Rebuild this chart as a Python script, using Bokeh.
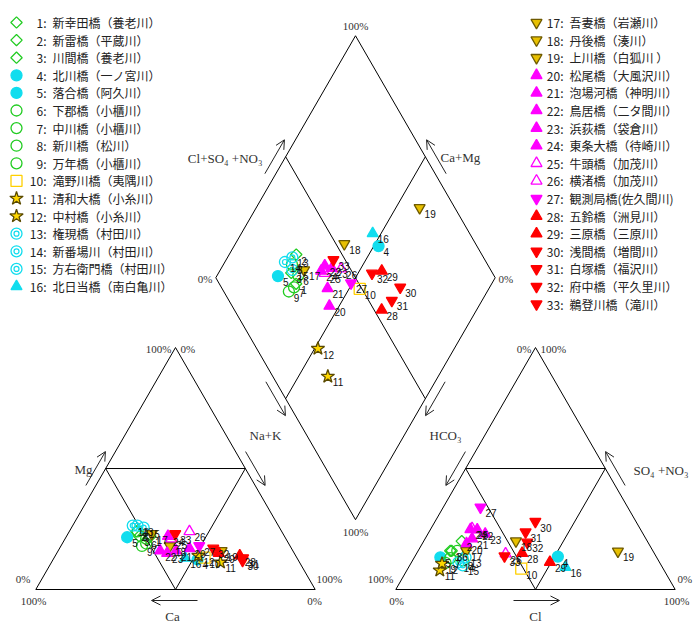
import numpy as np
from bokeh.plotting import figure
from bokeh.models import Range1d, Arrow, OpenHead, ColumnDataSource
from bokeh.core.properties import value
from bokeh.embed import file_html
from bokeh.resources import INLINE

# ---------------- data ----------------
ids = list(range(1, 34))
names = ["新幸田橋（養老川）", "新雷橋（平蔵川）", "川間橋（養老川）", "北川橋（一ノ宮川）",
         "落合橋（阿久川）", "下郡橋（小櫃川）", "中川橋（小櫃川）", "新川橋（松川）",
         "万年橋（小櫃川）", "滝野川橋（夷隅川）", "清和大橋（小糸川）", "中村橋（小糸川）",
         "権現橋（村田川）", "新番場川（村田川）", "方右衛門橋（村田川）", "北日当橋（南白亀川）",
         "吾妻橋（岩瀬川）", "丹後橋（湊川）", "上川橋（白狐川 ）", "松尾橋（大風沢川）",
         "泡場河橋（神明川）", "鳥居橋（二タ間川）", "浜荻橋（袋倉川）", "東条大橋（待崎川）",
         "牛頭橋（加茂川）", "横渚橋（加茂川）", "観測局橋(佐久間川)", "五鈴橋（洲見川）",
         "三原橋（三原川）", "浅間橋（増間川）", "白塚橋（福沢川）", "府中橋（平久里川）",
         "鵜登川橋（滝川）"]
# cations (% meq)
mg = [22, 24, 22, 12.4, 21.6, 21, 19, 24, 18, 13.2, 11.2, 14, 26.4, 26.4, 25.6, 13,
      23, 18, 16, 17, 16, 16, 15, 22, 21, 24, 18, 14, 15, 12, 13, 17, 23]
nak = [30, 24, 26, 51.7, 21.9, 29, 30, 24.5, 29, 53.8, 60.5, 51.2, 23.2, 21.5, 25.8, 47,
       30, 39, 58.5, 46.5, 42.2, 36.5, 39.5, 36.3, 38, 43, 49.5, 66, 58, 68, 67.7, 55, 38.4]
ca = [100 - a - b for a, b in zip(mg, nak)]
# anions (% meq)
so4 = [16, 20, 16, 13.6, 13.3, 16, 13, 12, 11, 8.6, 7.9, 10.7, 13.3, 11.2, 10, 9.2,
       16, 20, 15.8, 19, 21, 24.7, 23, 24.8, 25.2, 14.8, 34, 15, 11.3, 28.1, 23.7, 19.5, 13.8]
cl = [11.5, 13.6, 12, 51.2, 9.3, 14, 13, 18, 12.3, 40.6, 11.8, 11.2, 18.3, 16.8, 19, 56.1,
      17.2, 33, 71.6, 15.8, 16.8, 16.8, 20.5, 14.3, 14.7, 31.9, 13.3, 37.7, 49.5, 35.9, 34.6, 37.3, 32]
hco3 = [100 - a - b for a, b in zip(so4, cl)]

# ---------------- styles ----------------
GREEN, CYAN, MAG, RED, GOLD, YEL = "#22CC22", "#11DDEE", "#FF00FF", "#FF0000", "#E8C000", "#FFD000"
markers, fills, lines, falpha, angles = [], [], [], [], []
for i in ids:
    ang = 0.0
    if i <= 3:
        m, f, l, a = "square", GREEN, GREEN, 0
        ang = np.pi / 4
    elif i <= 5:
        m, f, l, a = "circle", CYAN, CYAN, 1
    elif i <= 9:
        m, f, l, a = "circle", GREEN, GREEN, 0
    elif i == 10:
        m, f, l, a = "square", YEL, YEL, 0
    elif i <= 12:
        m, f, l, a = "star", "#FFD700", "#5A4A00", 1
    elif i <= 15:
        m, f, l, a = "circle", CYAN, CYAN, 0
    elif i == 16:
        m, f, l, a = "triangle", CYAN, CYAN, 1
    elif i <= 19:
        m, f, l, a = "inverted_triangle", GOLD, "#6E5A00", 1
    elif i <= 24:
        m, f, l, a = "triangle", MAG, MAG, 1
    elif i <= 26:
        m, f, l, a = "triangle", MAG, MAG, 0
    elif i == 27:
        m, f, l, a = "inverted_triangle", MAG, MAG, 1
    elif i <= 29:
        m, f, l, a = "triangle", RED, RED, 1
    else:
        m, f, l, a = "inverted_triangle", RED, RED, 1
    markers.append(m); fills.append(f); lines.append(l); falpha.append(a); angles.append(ang)
sizes = [8 if i <= 3 else (14 if m == "star" else 11) for i, m in zip(ids, markers)]

# ---------------- geometry ----------------
S = 279.4
H = S * np.sqrt(3) / 2
LBL = np.array([35.3, 589.0])
RBL = np.array([395.3, 589.0])
gap = RBL[0] - (LBL[0] + S)
DB = np.array([(LBL[0] + S + RBL[0]) / 2, LBL[1] - gap * np.sqrt(3) / 2])


def cat_xy(mgv, nakv):
    m = np.asarray(mgv) / 100; n = np.asarray(nakv) / 100
    return LBL[0] + n * S + m * S / 2, LBL[1] - m * H


def an_xy(so4v, clv):
    s = np.asarray(so4v) / 100; c = np.asarray(clv) / 100
    return RBL[0] + c * S + s * S / 2, RBL[1] - s * H


def dia_xy(nakv, so4v, clv):
    c = 1 - np.asarray(nakv) / 100
    s = (np.asarray(so4v) + np.asarray(clv)) / 100
    return DB[0] + (s - c) * S / 2, DB[1] - (c + s) * H


p = figure(width=696, height=626, x_range=Range1d(0, 696), y_range=Range1d(-626, 0),
           output_backend="svg", toolbar_location=None, min_border=0,
           x_axis_location=None, y_axis_location=None, outline_line_color=None)
p.grid.visible = False

# outlines
tri_l = [LBL, LBL + [S, 0], LBL + [S / 2, -H], LBL]
tri_r = [RBL, RBL + [S, 0], RBL + [S / 2, -H], RBL]
def mids(t):
    a, b, c = t[0], t[1], t[2]
    return [(a + c) / 2, (b + c) / 2, (a + b) / 2, (a + c) / 2]
D_left = DB + [-S / 2, -H]; D_right = DB + [S / 2, -H]; D_top = DB + [0, -2 * H]
dia = [DB, D_left, D_top, D_right, DB]
dia_in1 = [(D_left + D_top) / 2, (DB + D_right) / 2]
dia_in2 = [(D_top + D_right) / 2, (D_left + DB) / 2]
polys = [tri_l, tri_r, mids(tri_l), mids(tri_r), dia, dia_in1, dia_in2]
p.multi_line(xs=[[q[0] for q in pl] for pl in polys],
             ys=[[-q[1] for q in pl] for pl in polys], line_color="black", line_width=1)

# arrows (screen coords, layout)
def arrow(x0, y0, x1, y1):
    p.add_layout(Arrow(end=OpenHead(size=9, line_width=1, line_color="#222222"),
                       x_start=x0, y_start=-y0, x_end=x1, y_end=-y1,
                       line_width=1, line_color="#222222"))

def edge_arrow(a, b, off, f0=0.43, f1=0.57):
    a = np.asarray(a); b = np.asarray(b)
    p0 = a + (b - a) * f0 + [off, 0]
    p1 = a + (b - a) * f1 + [off, 0]
    arrow(p0[0], p0[1], p1[0], p1[1])

apexL = LBL + [S / 2, -H]; apexR = RBL + [S / 2, -H]
edge_arrow(LBL, apexL, -10)                       # Mg
edge_arrow(apexL, LBL + [S, 0], 10)               # Na+K (left triangle)
edge_arrow(apexR, RBL, -10)                       # HCO3 (right triangle)
edge_arrow(RBL + [S, 0], apexR, 10)               # SO4+NO3
edge_arrow(D_left, D_top, -11)                    # Cl+SO4+NO3
edge_arrow(D_right, D_top, 11)                    # Ca+Mg
edge_arrow(D_left, DB, -10)                       # Na+K (diamond)
edge_arrow(D_right, DB, 10)                       # HCO3 (diamond)
arrow(LBL[0] + S / 2 + 22, 600, LBL[0] + S / 2 - 24, 600)   # Ca
arrow(RBL[0] + S / 2 - 22, 600, RBL[0] + S / 2 + 24, 600)   # Cl

# axis titles
serif = value("Liberation Serif")
def label(x, y, t, align="center", size="13px", color="#333333", font=serif):
    p.text(x=[x], y=[-y], text=[t], text_align=align, text_baseline="middle",
           text_font=font, text_font_size=size, text_color=color)

label(262, 158, "Cl+SO₄ +NO₃", "right")
label(440, 157, "Ca+Mg", "left")
label(265, 435, "Na+K")
label(429, 435, "HCO₃", "left")
label(83, 469, "Mg")
label(633, 470, "SO₄ +NO₃", "left")
label(172, 616, "Ca")
label(535, 616, "Cl")

# percent labels
pct = [(171, 348, "100%", "right"), (180, 348, "0%", "left"),
       (30, 578, "0%", "right"), (33, 600, "100%", "center"),
       (316, 578, "100%", "left"), (314, 600, "0%", "center"),
       (531, 348, "0%", "right"), (540, 348, "100%", "left"),
       (393, 578, "100%", "right"), (396, 600, "0%", "center"),
       (677, 578, "0%", "left"), (676, 600, "100%", "center"),
       (355, 25, "100%", "center"), (212, 278, "0%", "right"),
       (498, 278, "0%", "left"), (355, 531, "100%", "center")]
for x, y, t, a in pct:
    label(x, y, t, a, size="11px")

# data points
cx, cy = cat_xy(mg, nak)
ax, ay = an_xy(so4, cl)
dx, dy = dia_xy(nak, so4, cl)
X = np.concatenate([cx, ax, dx]); Yv = -np.concatenate([cy, ay, dy])
rep = lambda v: list(v) * 3
src = ColumnDataSource(dict(x=X, y=Yv, marker=rep(markers), fill=rep(fills), line=rep(lines),
                            fa=rep(falpha), size=rep(sizes), ang=rep(angles),
                            lab=[str(i) for i in ids] * 3))
p.scatter("x", "y", source=src, marker="marker", size="size", fill_color="fill", angle="ang",
          line_color="line", fill_alpha="fa", line_width=1.3)
dbl = [k for k in range(len(X)) if (k % 33) + 1 in (13, 14, 15)]
p.scatter(X[dbl], Yv[dbl], marker="circle", size=5, fill_alpha=0, line_color=CYAN, line_width=1.2)
p.text("x", "y", text="lab", source=src, x_offset=5, y_offset=2, text_baseline="top",
       text_font=value("Liberation Sans Narrow, Liberation Sans"), text_font_size="10px",
       text_color="#111111")

# legend
lx, ly, tx = [], [], []
for k, i in enumerate(ids):
    if i <= 16:
        lx.append(16); tx.append(46); ly.append(22 + (i - 1) * 17.6)
    else:
        lx.append(536); tx.append(563); ly.append(22 + (i - 17) * 17.6)
lsrc = ColumnDataSource(dict(x=lx, y=[-v for v in ly], tx=tx, tn=[t + 6 for t in tx],
                             marker=markers, fill=fills, line=lines, fa=falpha, size=sizes,
                             ang=angles, num=[f"{i}:" for i in ids], name=names))
p.scatter("x", "y", source=lsrc, marker="marker", size="size", fill_color="fill", angle="ang",
          line_color="line", fill_alpha="fa", line_width=1.3)
ldbl = [k for k, i in enumerate(ids) if i in (13, 14, 15)]
p.scatter([lx[k] for k in ldbl], [-ly[k] for k in ldbl], marker="circle", size=5,
          fill_alpha=0, line_color=CYAN, line_width=1.2)
jp = value("Noto Sans CJK JP")
p.text("tx", "y", text="num", source=lsrc, text_align="right", text_baseline="middle",
       text_font=jp, text_font_size="12px", text_color="#222222")
p.text("tn", "y", text="name", source=lsrc, text_align="left", text_baseline="middle",
       text_font=jp, text_font_size="12px", text_color="#222222")

open("out.html", "w").write(file_html(p, INLINE))
